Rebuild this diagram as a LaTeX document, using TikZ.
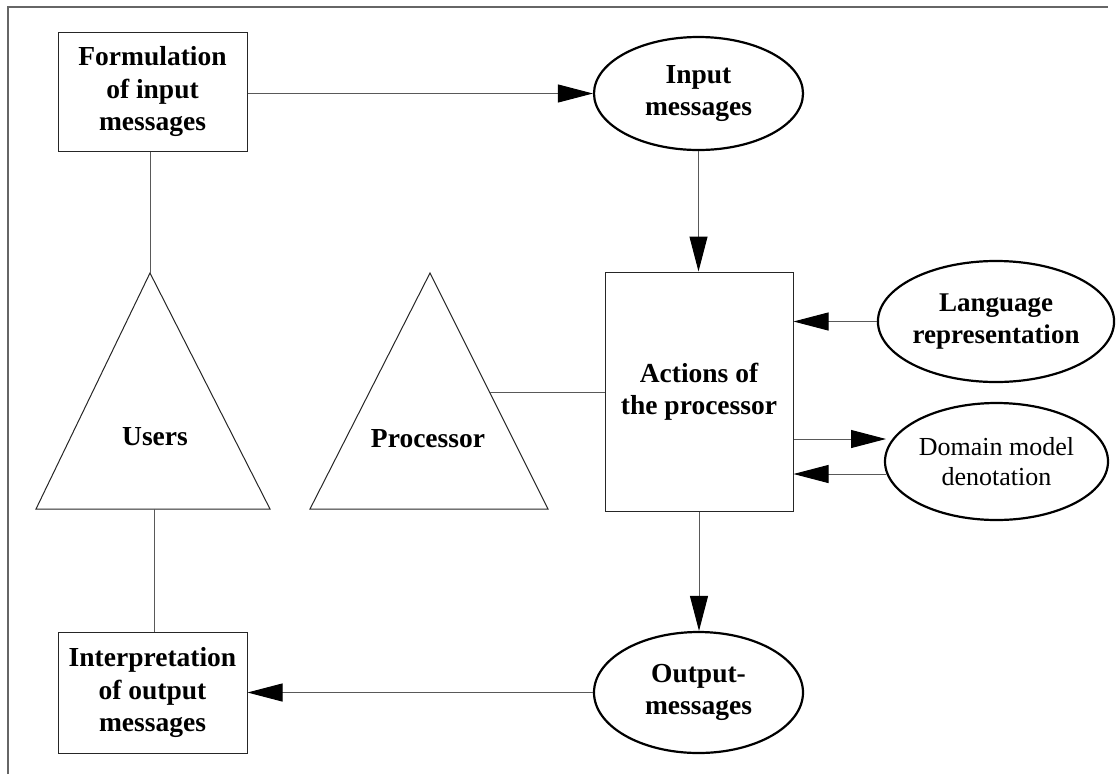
\documentclass[tikz,border=0pt]{standalone}
\usepackage{fontspec}
\setmainfont{Liberation Serif}
\usetikzlibrary{shapes.geometric,arrows.meta,calc}
\tikzset{
  lbl/.style={align=center,inner sep=0pt,font=\fontsize{27.5}{32.5}\selectfont\bfseries},
  boxnode/.style={draw=black!85,line width=1pt,rectangle,inner sep=0pt,lbl},
  ellnode/.style={draw=black,line width=2.2pt,ellipse,inner sep=0pt,lbl},
  conn/.style={draw=black!65,line width=1pt},
  arr/.style={conn,-{Triangle[length=35pt,width=18pt,fill=black,color=black]}},
  tri/.style={draw=black!85,line width=1pt,line join=miter},
  frame/.style={draw=black!60,line width=1.5pt}
}
\begin{document}
\begin{tikzpicture}[x=1pt,y=-1pt]
\useasboundingbox (0,0) rectangle (1118,774);
\draw[frame] (8,774) -- (8,7) -- (1108,7);

\node[boxnode,minimum width=189pt,minimum height=119pt] (form) at (152.5,91.5) {Formulation\\of input\\messages};
\node[boxnode,minimum width=189pt,minimum height=121pt] (interp) at (152.5,692.5) {Interpretation\\of output\\messages};
\node[boxnode,minimum width=188pt,minimum height=239pt] (actions) at (699,391.5) {Actions of\\the processor};

\node[ellnode,minimum width=209pt,minimum height=113pt] (input) at (698.5,93.5) {Input\\messages};
\node[ellnode,minimum width=224pt,minimum height=121pt,font=\fontsize{27}{32}\selectfont\bfseries] (lang) at (996,321.5) {Language\\representation};
\node[ellnode,minimum width=223pt,minimum height=117pt,font=\fontsize{26}{30}\selectfont] (domain) at (996.5,461.5) {Domain model\\denotation};
\node[ellnode,minimum width=209pt,minimum height=121pt] (output) at (698.5,692.5) {Output-\\messages};

% Users triangle
\coordinate (uapex) at (150,273);
\coordinate (uleft) at (36,509);
\coordinate (uright) at (270,509);
\draw[tri] (uapex) -- (uleft) -- (uright) -- cycle;
\node[lbl] (users) at (155,437) {Users};
\coordinate (ubase) at (154,509);

% Processor triangle
\coordinate (papex) at (430,273);
\coordinate (pleft) at (310,509);
\coordinate (pright) at (548,509);
\draw[tri] (papex) -- (pleft) -- (pright) -- cycle;
\node[lbl] (proc) at (428,439) {Processor};
\coordinate (pside) at (490,392);

% connectors
\draw[conn] (form.south -| uapex) -- (uapex);
\draw[conn] (ubase) -- (ubase |- interp.north);
\draw[conn] (pside) -- (pside -| actions.west);

\draw[arr] (input.west -| form.east) -- (input.west);
\draw[arr] (input.south) -- (input.south |- actions.north);
\draw[arr] (lang.west) -- (lang.west -| actions.east);
\coordinate (d1) at (886,439);
\coordinate (d2) at (886,474);
\draw[arr] (d1 -| actions.east) -- (d1);
\draw[arr] (d2) -- (d2 -| actions.east);
\draw[arr] (actions.south) -- (actions.south |- output.north);
\draw[arr] (output.west) -- (output.west -| interp.east);
\end{tikzpicture}
\end{document}
